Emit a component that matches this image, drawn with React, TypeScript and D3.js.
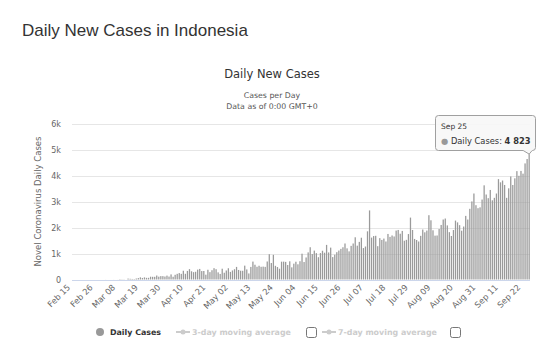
import React from "react";
import * as d3 from "d3";

const startDate = new Date(2020, 1, 15);
const febCases = [0,0,0,0,0,0,0,0,0,0,0,0,0,0,0];
const marCases = [0,2,0,0,0,2,0,2,13,8,7,0,35,27,21,17,38,55,82,60,81,64,65,107,104,103,153,109,130,129,114];
const aprCases = [149,113,196,106,181,218,247,218,337,219,330,399,316,282,297,380,407,325,327,185,375,283,357,436,396,275,214,415,260,347];
const mayCases = [433,292,349,395,484,367,338,336,533,387,233,484,689,568,490,529,489,496,486,693,973,634,949,526,479,415,686,687,678,557,700];
const junCases = [467,609,684,585,703,993,672,847,1043,1241,979,1111,1014,857,1017,1106,1031,1331,1041,1226,862,954,1051,1113,1178,1240,1385,1198,1082,1293];
const julCases = [1385,1624,1301,1447,1607,1209,1268,1853,2657,1611,1671,1681,1282,1591,1522,1574,1462,1752,1639,1693,1655,1882,1906,1761,1868,1492,1525,1748,2381,1904,1560];
const augCases = [1519,1462,1679,1922,1815,1882,2473,2277,1893,1687,1693,1942,2098,2307,2345,2081,1821,1673,1902,2266,2197,2090,1877,2037,2447,2306,2719,3003,3308,2858,2743];
const sepCases = [2775,3075,3622,3269,3128,3444,3046,3141,3307,3861,3737,3806,3636,3141,3507,3963,3635,3891,4168,3989,4176,4071,4465,4634,4823];

const dailyCases = [...febCases, ...marCases, ...aprCases, ...mayCases, ...junCases, ...julCases, ...augCases, ...sepCases];
const fmt = d3.timeFormat("%b %d");
const categories = dailyCases.map((_, i) => fmt(d3.timeDay.offset(startDate, i)));

const xTickLabels = ["Feb 15","Feb 26","Mar 08","Mar 19","Mar 30","Apr 10","Apr 21","May 02","May 13","May 24","Jun 04","Jun 15","Jun 26","Jul 07","Jul 18","Jul 29","Aug 09","Aug 20","Aug 31","Sep 11","Sep 22"];
const yTicks = [0, 1000, 2000, 3000, 4000, 5000, 6000];
const yTickLabels = ["0", "1k", "2k", "3k", "4k", "5k", "6k"];

const FONT = "'DejaVu Sans', Verdana, sans-serif";

export default function App() {
  const W = 540, H = 361;
  const left = 72, right = 530, top = 123.5, bottom = 279.5;
  const x = d3.scaleBand<string>().domain(categories).range([left, right]).paddingInner(0.38).paddingOuter(0.1);
  const y = d3.scaleLinear().domain([0, 6000]).range([bottom, top]);
  const bw = x.bandwidth();
  const lastIdx = dailyCases.length - 1;
  const lastCat = categories[lastIdx];
  const tipX = (x(lastCat) as number) + bw / 2;
  const tipY = y(dailyCases[lastIdx]);
  const bx0 = 435.5, bx1 = 535.5, by0 = 115.5, by1 = 150.5, r = 3;
  const tooltipPath = `M ${bx0 + r} ${by0} L ${bx1 - r} ${by0} Q ${bx1} ${by0} ${bx1} ${by0 + r} L ${bx1} ${by1 - r} Q ${bx1} ${by1} ${bx1 - r} ${by1} L ${tipX + 3} ${by1} L ${tipX} ${tipY} L ${tipX - 6} ${by1} L ${bx0 + r} ${by1} Q ${bx0} ${by1} ${bx0} ${by1 - r} L ${bx0} ${by0 + r} Q ${bx0} ${by0} ${bx0 + r} ${by0} Z`;

  return (
    <svg width={W} height={H} style={{ position: "absolute", left: 0, top: 0, background: "#fff" }}>
      <text x={22} y={36} fontFamily="'Liberation Sans', Arial, sans-serif" fontSize={17} fill="#333">Daily New Cases in Indonesia</text>
      <text x={272} y={78} textAnchor="middle" fontFamily={FONT} fontSize={11.5} fill="#333">Daily New Cases</text>
      <text x={272} y={98} textAnchor="middle" fontFamily={FONT} fontSize={7.8} fill="#555">Cases per Day</text>
      <text x={272} y={109} textAnchor="middle" fontFamily={FONT} fontSize={7.8} fill="#555">Data as of 0:00 GMT+0</text>

      {yTicks.map((t, i) => (
        <g key={t}>
          <line x1={left} x2={right} y1={Math.round(y(t)) + 0.5} y2={Math.round(y(t)) + 0.5} stroke={i === 0 ? "#ccd6eb" : "#e6e6e6"} strokeWidth={1} />
          <text x={61} y={y(t) + 3} textAnchor="end" fontFamily={FONT} fontSize={8} fill="#666">{yTickLabels[i]}</text>
        </g>
      ))}
      <text transform={`translate(41,${(top + bottom) / 2}) rotate(-90)`} textAnchor="middle" fontFamily={FONT} fontSize={8.5} fill="#666">Novel Coronavirus Daily Cases</text>

      {dailyCases.map((v, i) => (
        <rect key={i} x={x(categories[i])} y={y(v)} width={bw} height={bottom - y(v)} fill="#9a9a9a" />
      ))}

      {xTickLabels.map((lab) => {
        const cx = (x(lab) as number) + bw / 2 - 2;
        const cy = 288;
        return (
          <text key={lab} transform={`translate(${cx},${cy}) rotate(-45)`} textAnchor="end" fontFamily={FONT} fontSize={8.3} fill="#666">{lab}</text>
        );
      })}

      <path d={tooltipPath} fill="rgba(247,247,247,0.9)" stroke="#a0a0a0" strokeWidth={1} />
      <text x={441} y={129} fontFamily={FONT} fontSize={7.5} fill="#333">Sep 25</text>
      <text x={441} y={144} fontFamily={FONT} fontSize={8.3} fill="#333">
        <tspan fill="#999">●</tspan>
        <tspan> Daily Cases: </tspan>
        <tspan fontWeight="bold">4 823</tspan>
      </text>

      <circle cx={100} cy={332} r={4} fill="#999" />
      <text x={110} y={335} fontFamily={FONT} fontSize={7.9} fontWeight="bold" fill="#333">Daily Cases</text>
      <line x1={176} x2={190} y1={332} y2={332} stroke="#ccc" strokeWidth={2} />
      <circle cx={183} cy={332} r={2.5} fill="#ccc" />
      <text x={192} y={335} fontFamily={FONT} fontSize={7.9} fontWeight="bold" fill="#ccc">3-day moving average</text>
      <rect x={306.5} y={327.5} width={10} height={10} rx={2} fill="#fff" stroke="#777" />
      <line x1={322} x2={336} y1={332} y2={332} stroke="#ccc" strokeWidth={2} />
      <circle cx={329} cy={332} r={2.5} fill="#ccc" />
      <text x={338} y={335} fontFamily={FONT} fontSize={7.9} fontWeight="bold" fill="#ccc">7-day moving average</text>
      <rect x={450.5} y={327.5} width={10} height={10} rx={2} fill="#fff" stroke="#777" />
    </svg>
  );
}
